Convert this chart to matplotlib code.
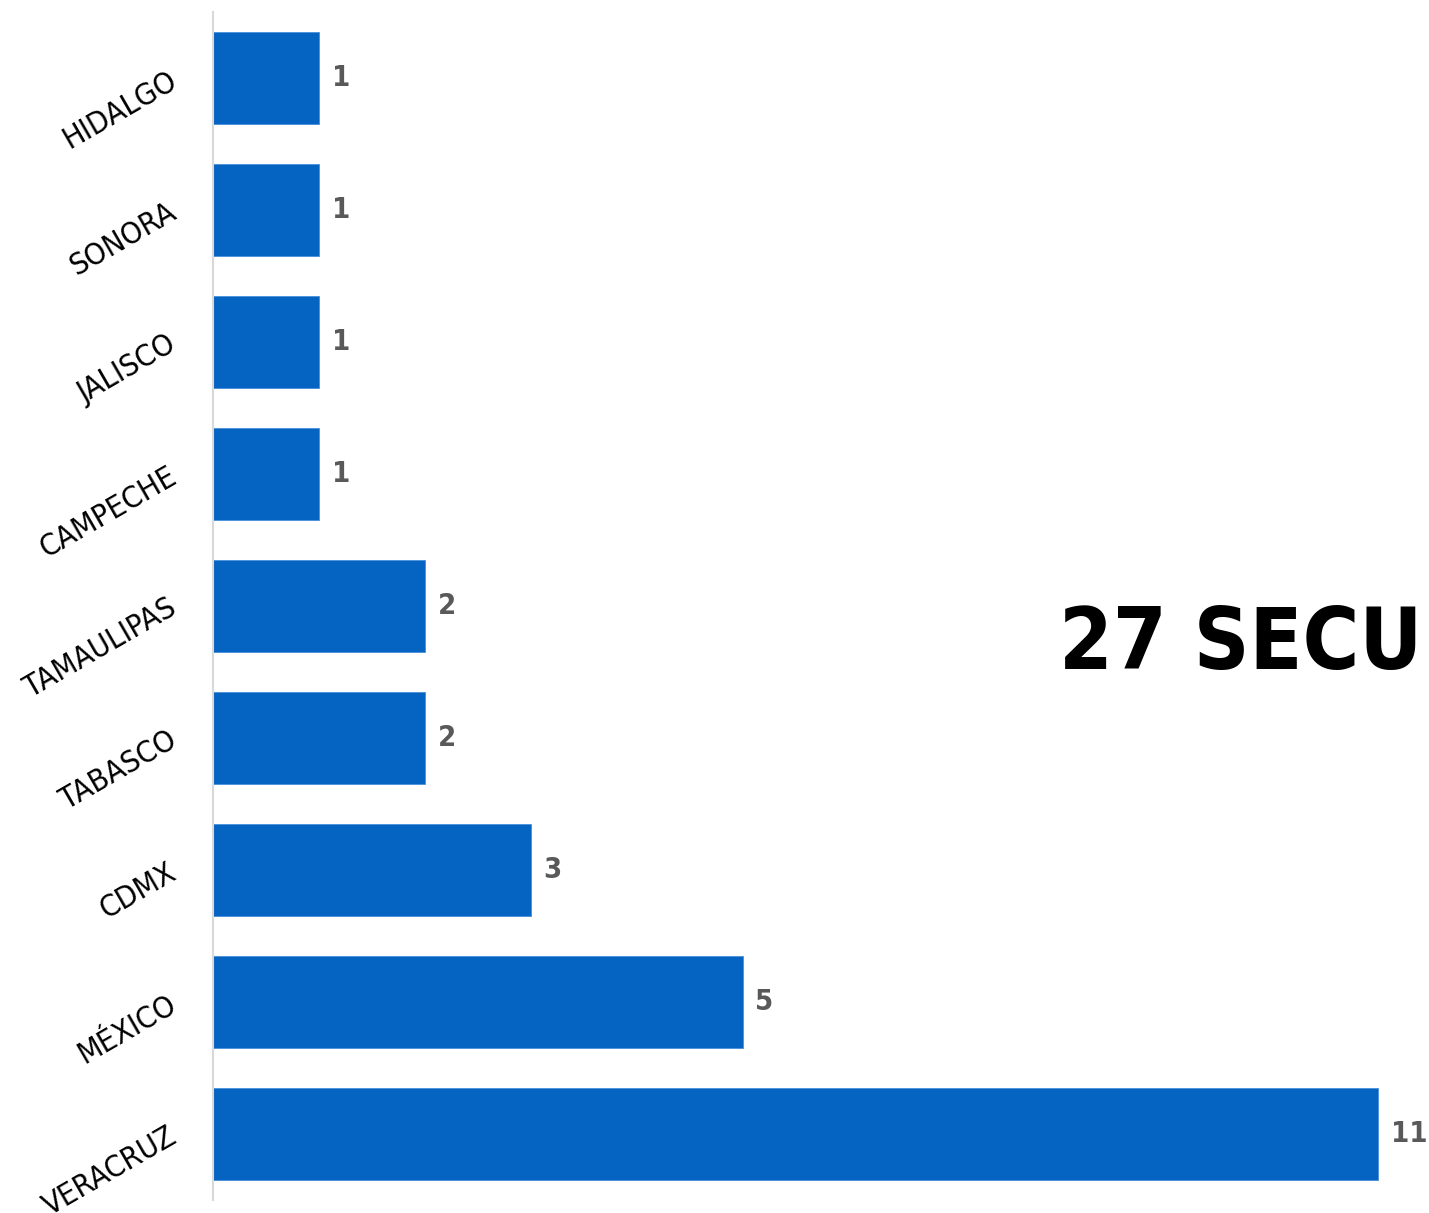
import matplotlib
matplotlib.use("Agg")
import matplotlib.pyplot as plt

# datos
estados = ["HIDALGO", "SONORA", "JALISCO", "CAMPECHE", "TAMAULIPAS",
           "TABASCO", "CDMX", "MÉXICO", "VERACRUZ"]
valores = [1, 1, 1, 1, 2, 2, 3, 5, 11]
titulo = "27 SECU"

fig = plt.figure(figsize=(14.29, 12.13), dpi=100)
ax = fig.add_axes([213/1429, 1-1200/1213, 1-213/1429, (1200-12)/1213])

y = list(range(len(estados)))
ax.barh(y, valores, height=0.69, color="#0563C1", edgecolor="#4A8FD8", linewidth=0.6)

for yi, v in zip(y, valores):
    ax.text(v + 0.12, yi, str(v), va="center", ha="left", fontsize=21,
            fontweight="bold", fontstretch="condensed", color="#595959",
            family="DejaVu Sans")

ax.set_xlim(0, 11.48)
ax.set_ylim(8.5, -0.5)
ax.set_yticks(y)
ax.set_yticklabels(estados, rotation=30, ha="right", va="center",
                   rotation_mode="anchor", fontsize=22, fontstretch="condensed",
                   family="DejaVu Sans")
ax.tick_params(axis="y", length=0, pad=28)
ax.set_xticks([])
for s in ["top", "right", "bottom"]:
    ax.spines[s].set_visible(False)
ax.spines["left"].set_color("#D9D9D9")
ax.spines["left"].set_linewidth(1.5)

fig.text(1422/1429, 1-645/1213, titulo, ha="right", va="center", fontsize=62,
         fontweight="bold", fontstretch="condensed", family="DejaVu Sans",
         color="black")

fig.savefig("out.png", dpi=100)
